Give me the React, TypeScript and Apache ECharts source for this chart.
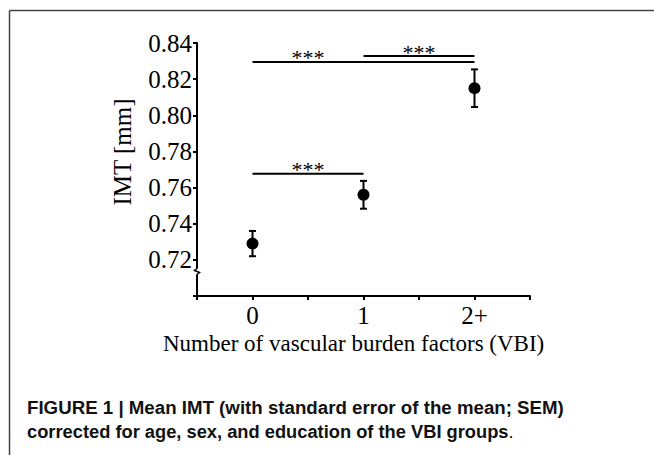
import React, { useEffect, useRef } from "react";
import * as echarts from "echarts";

const groups = [0, 1, 2];
const groupLabels = ["0", "1", "2+"];
const meanIMT = [0.729, 0.756, 0.815];
const semIMT = [0.007, 0.0077, 0.0104];

const sigFrom = [0, 0, 1];
const sigTo = [1, 2, 2];
const sigLevel = [0.7676, 0.8295, 0.8328];
const sigLabelAt = [0.5, 0.5, 1.5];
const sigText = ["***", "***", "***"];

const yTicks = [0.72, 0.74, 0.76, 0.78, 0.8, 0.82, 0.84];

const SERIF = "'Liberation Serif', 'Times New Roman', serif";
const CAPTION_FONT = "'Liberation Sans', Arial, sans-serif";

export default function App() {
  const ref = useRef<HTMLDivElement>(null);

  useEffect(() => {
    if (!ref.current) return;
    const chart = echarts.init(ref.current, undefined, { renderer: "svg" });

    const errData = groups.map((g, i) => [g, meanIMT[i], semIMT[i]]);
    const sigData = sigFrom.map((f, i) => [f, sigTo[i], sigLevel[i], sigLabelAt[i], i]);

    const option: any = {
      animation: false,
      backgroundColor: "#ffffff",
      grid: { left: 197, right: 124, top: 43, bottom: 159, containLabel: false },
      xAxis: {
        type: "value",
        min: -0.5,
        max: 2.5,
        interval: 0.5,
        axisLine: { show: true, onZero: false, lineStyle: { color: "#000", width: 2 } },
        axisTick: { show: true, inside: false, length: 4, lineStyle: { color: "#000", width: 2 } },
        splitLine: { show: false },
        axisLabel: {
          show: true,
          margin: 7,
          color: "#000",
          fontFamily: SERIF,
          fontSize: 25,
          showMinLabel: true,
          showMaxLabel: true,
          formatter: (v: number) => {
            const idx = groups.findIndex((g) => Math.abs(g - v) < 1e-9);
            return idx >= 0 ? groupLabels[idx] : "";
          },
        },
      },
      yAxis: {
        type: "value",
        min: 0.7,
        max: 0.84,
        interval: 0.02,
        axisLine: { show: true, onZero: false, lineStyle: { color: "#000", width: 2 } },
        axisTick: {
          show: true,
          length: 4,
          lineStyle: { color: "#000", width: 2 },
        },
        splitLine: { show: false },
        axisLabel: {
          color: "#000",
          fontFamily: SERIF,
          fontSize: 25,
          margin: 5,
          showMinLabel: true,
          formatter: (v: number) =>
            yTicks.some((t) => Math.abs(t - v) < 1e-9) ? v.toFixed(2) : "",
        },
      },
      graphic: [
        { type: "line", shape: { x1: 9.5, y1: 10.5, x2: 654, y2: 10.5 }, style: { stroke: "#444", lineWidth: 1.5 } },
        { type: "line", shape: { x1: 9.5, y1: 10.5, x2: 9.5, y2: 455 }, style: { stroke: "#444", lineWidth: 1.5 } },
        { type: "rect", shape: { x: 192, y: 268, width: 10, height: 7 }, style: { fill: "#fff" }, z: 100 },
        {
          type: "polyline",
          shape: { points: [[197, 267], [197, 268.5], [194.5, 270.5], [199.5, 272.5], [197, 274.5], [197, 276]] },
          style: { stroke: "#000", lineWidth: 1.5, fill: null },
          z: 101,
        },
        {
          type: "text",
          x: 122,
          y: 152,
          rotation: Math.PI / 2,
          style: {
            text: "IMT [mm]",
            font: `25px ${SERIF}`,
            fill: "#000000",
            align: "center",
            verticalAlign: "middle",
          },
        },
        {
          type: "text",
          x: 163,
          y: 343,
          style: {
            text: "Number of vascular burden factors (VBI)",
            font: `23px ${SERIF}`,
            fill: "#000",
            align: "left",
            verticalAlign: "middle",
          },
        },
        {
          type: "text",
          x: 27,
          y: 407.5,
          style: {
            text: "FIGURE 1 | Mean IMT (with standard error of the mean; SEM)",
            font: `bold 18.7px ${CAPTION_FONT}`,
            fill: "#111",
            verticalAlign: "middle",
          },
        },
        {
          type: "text",
          x: 27,
          y: 431.5,
          style: {
            text: "{b|corrected for age, sex, and education of the VBI groups}{n|.}",
            fill: "#111",
            verticalAlign: "middle",
            rich: {
              b: { font: `bold 18.3px ${CAPTION_FONT}`, fill: "#111" },
              n: { font: `18.3px ${CAPTION_FONT}`, fill: "#111" },
            },
          },
        },
      ],
      series: [
        {
          type: "custom",
          name: "sem",
          data: errData,
          z: 2,
          renderItem: (params: any, api: any) => {
            const x = api.value(0);
            const m = api.value(1);
            const s = api.value(2);
            const top = api.coord([x, m + s]);
            const bot = api.coord([x, m - s]);
            const hw = 3.5;
            const st = { stroke: "#000", lineWidth: 2 };
            return {
              type: "group",
              children: [
                { type: "line", shape: { x1: top[0], y1: top[1], x2: bot[0], y2: bot[1] }, style: st },
                { type: "line", shape: { x1: top[0] - hw, y1: top[1], x2: top[0] + hw, y2: top[1] }, style: st },
                { type: "line", shape: { x1: bot[0] - hw, y1: bot[1], x2: bot[0] + hw, y2: bot[1] }, style: st },
              ],
            };
          },
        },
        {
          type: "scatter",
          name: "IMT",
          data: groups.map((g, i) => [g, meanIMT[i]]),
          symbol: "circle",
          symbolSize: 12,
          itemStyle: { color: "#000", opacity: 1 },
          z: 3,
        },
        {
          type: "custom",
          name: "sig",
          data: sigData,
          z: 4,
          renderItem: (params: any, api: any) => {
            const a = api.coord([api.value(0), api.value(2)]);
            const b = api.coord([api.value(1), api.value(2)]);
            const c = api.coord([api.value(3), api.value(2)]);
            const idx = api.value(4);
            return {
              type: "group",
              children: [
                { type: "line", shape: { x1: a[0], y1: a[1], x2: b[0], y2: b[1] }, style: { stroke: "#000", lineWidth: 2 } },
                {
                  type: "text",
                  x: c[0],
                  y: c[1] + 7,
                  style: {
                    text: sigText[idx],
                    font: `22px ${SERIF}`,
                    fill: "#000",
                    align: "center",
                    verticalAlign: "bottom",
                  },
                },
              ],
            };
          },
        },
      ],
    };

    chart.setOption(option);
    return () => chart.dispose();
  }, []);

  return (
    <div
      ref={ref}
      style={{ position: "fixed", left: 0, top: 0, width: 654, height: 455, background: "#fff" }}
    />
  );
}
